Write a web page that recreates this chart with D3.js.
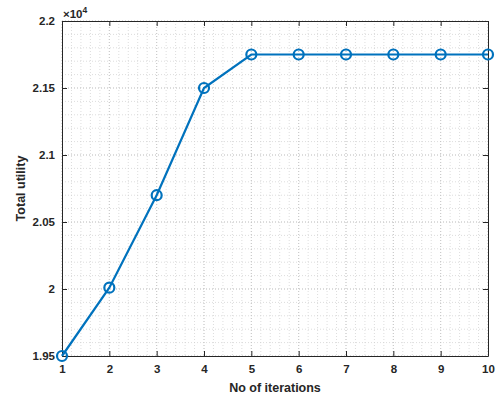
<!DOCTYPE html>
<html><head><meta charset="utf-8">
<script src="https://cdn.jsdelivr.net/npm/d3@7"></script>
<style>body{margin:0;background:#fff}svg{display:block}text{font-family:"Liberation Sans",Arial,sans-serif;font-weight:bold;fill:#262626}</style>
</head><body><svg id="c" width="498" height="403"></svg>
<script>
const iterations = [1,2,3,4,5,6,7,8,9,10];
const utility = [19500,20010,20700,21500,21750,21750,21750,21750,21750,21750];
const xTicks = [1,2,3,4,5,6,7,8,9,10];
const yTicks = [19500,20000,20500,21000,21500,22000];
const yTickLabels = ["1.95","2","2.05","2.1","2.15","2.2"];

const svg = d3.select("#c");
const L=62,R=488,T=21,B=356;
const x = d3.scaleLinear().domain([1,10]).range([L,R]);
const y = d3.scaleLinear().domain([19500,22000]).range([B,T]);
const g = svg.append("g");
// minor grid
const xMinor = d3.range(1,10.0001,0.2);
const yMinor = d3.range(19500,22000.1,100);
g.selectAll(".xm").data(xMinor).enter().append("line")
 .attr("x1",d=>x(d)).attr("x2",d=>x(d)).attr("y1",T).attr("y2",B)
 .attr("stroke","#cfcfcf").attr("stroke-width",0.7).attr("stroke-dasharray","1,2");
g.selectAll(".ym").data(yMinor).enter().append("line")
 .attr("y1",d=>y(d)).attr("y2",d=>y(d)).attr("x1",L).attr("x2",R)
 .attr("stroke","#cfcfcf").attr("stroke-width",0.7).attr("stroke-dasharray","1,2");
// major grid
g.selectAll(".xg").data(xTicks).enter().append("line")
 .attr("x1",d=>x(d)).attr("x2",d=>x(d)).attr("y1",T).attr("y2",B)
 .attr("stroke","#c0c0c0").attr("stroke-width",0.8).attr("stroke-dasharray","1,2");
g.selectAll(".yg").data(yTicks).enter().append("line")
 .attr("y1",d=>y(d)).attr("y2",d=>y(d)).attr("x1",L).attr("x2",R)
 .attr("stroke","#c0c0c0").attr("stroke-width",0.8).attr("stroke-dasharray","1,2");

// axes
const ax = d3.axisBottom(x).tickValues(xTicks).tickSizeInner(-5).tickSizeOuter(0).tickPadding(9);
const ay = d3.axisLeft(y).tickValues(yTicks).tickFormat((d,i)=>yTickLabels[i]).tickSizeInner(-5).tickSizeOuter(0).tickPadding(9);
const gx = svg.append("g").attr("transform",`translate(0,${B})`).call(ax);
const gy = svg.append("g").attr("transform",`translate(${L},0)`).call(ay);
const gxt = svg.append("g").attr("transform",`translate(0,${T})`).call(d3.axisTop(x).tickValues(xTicks).tickSizeInner(-5).tickSizeOuter(0).tickFormat(""));
const gyr = svg.append("g").attr("transform",`translate(${R},0)`).call(d3.axisRight(y).tickValues(yTicks).tickSizeInner(-5).tickSizeOuter(0).tickFormat(""));
[gx,gy,gxt,gyr].forEach(a=>{
  a.select(".domain").attr("stroke","#262626").attr("stroke-width",1);
  a.selectAll(".tick line").attr("stroke","#262626");
  a.selectAll("text").attr("font-size",11.5).attr("font-family","Liberation Sans, Arial, sans-serif").attr("font-weight","bold").attr("fill","#262626");
});
gy.selectAll("text").attr("dx",2);

// line
svg.append("path").datum(iterations.map((d,i)=>[d,utility[i]]))
 .attr("d",d3.line().x(d=>x(d[0])).y(d=>y(d[1])))
 .attr("fill","none").attr("stroke","#0072BD").attr("stroke-width",2.2);
svg.selectAll(".pt").data(iterations.map((d,i)=>[d,utility[i]])).enter().append("circle")
 .attr("cx",d=>x(d[0])).attr("cy",d=>y(d[1])).attr("r",5)
 .attr("fill","none").attr("stroke","#0072BD").attr("stroke-width",2.2);

// labels
svg.append("text").attr("x",(L+R)/2).attr("y",392).attr("text-anchor","middle").attr("font-size",12.5).text("No of iterations");
svg.append("text").attr("transform",`translate(25,${(T+B)/2}) rotate(-90)`).attr("text-anchor","middle").attr("font-size",12.5).text("Total utility");
const ex = svg.append("text").attr("x",63).attr("y",18).attr("font-size",11.5).attr("font-weight","normal");
ex.append("tspan").text("×10");
ex.append("tspan").attr("font-size",8.5).attr("dy",-5).text("4");
</script></body></html>
